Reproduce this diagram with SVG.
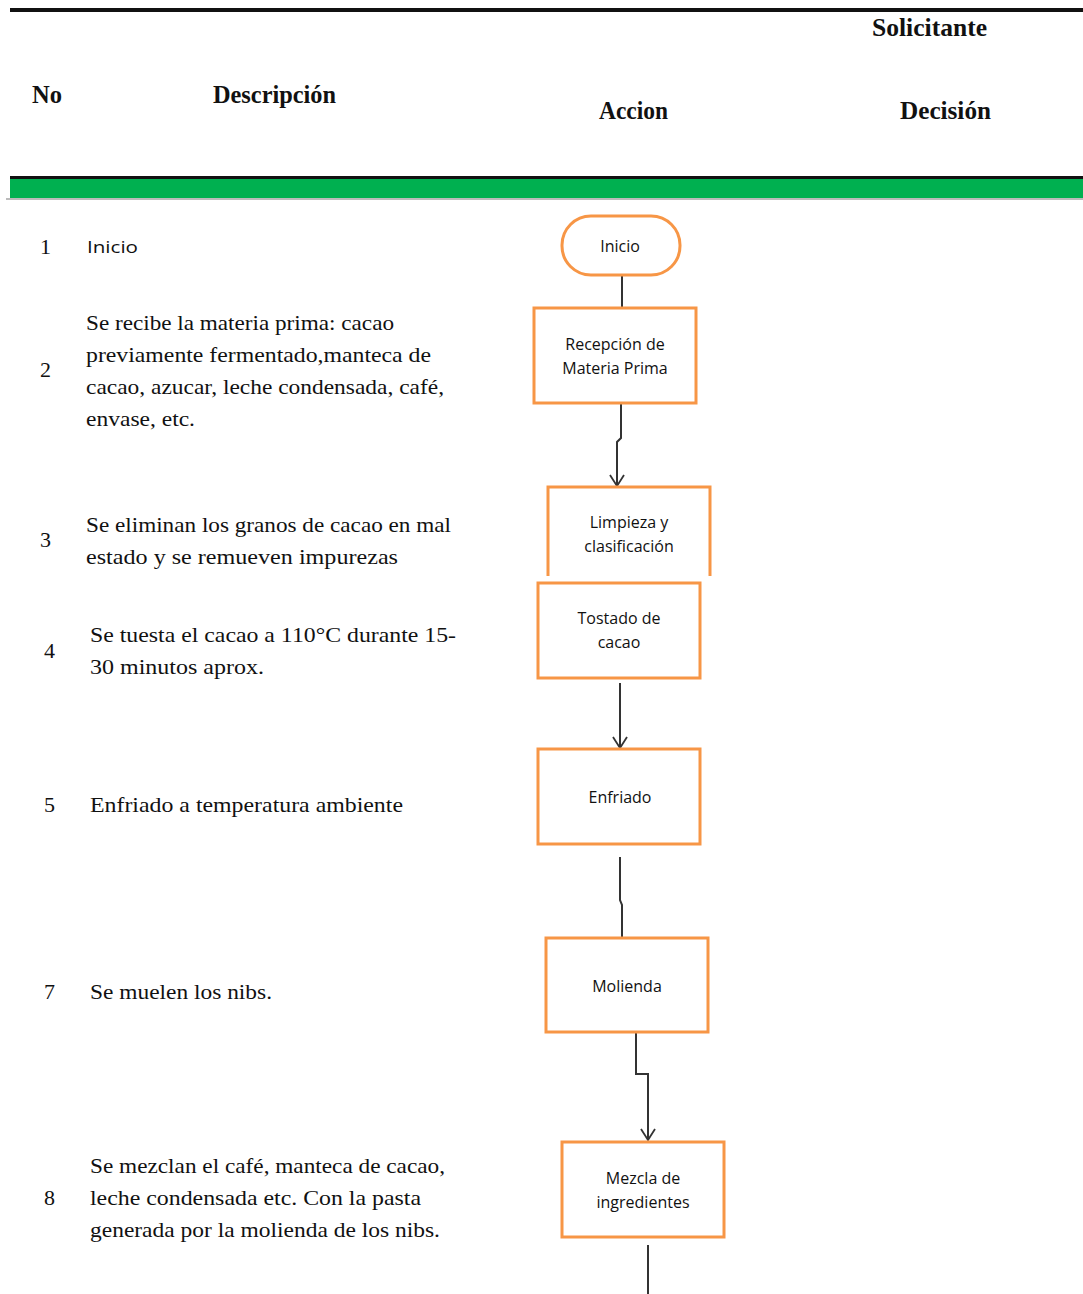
<svg xmlns="http://www.w3.org/2000/svg" width="1083" height="1294" viewBox="0 0 1083 1294">
<defs>
<style>
.h{font-family:"Liberation Serif","Times New Roman",serif;font-weight:bold;font-size:25px;fill:#111}
.d{font-family:"Liberation Serif","Times New Roman",serif;font-size:22px;fill:#111}
.n{font-family:"Liberation Serif","Times New Roman",serif;font-size:22px;fill:#111}
.s{font-family:"Open Sans","Noto Sans",sans-serif;font-size:16px;fill:#111}
.box{fill:#fff;stroke:#F79646;stroke-width:3}
.c{fill:none;stroke:#333;stroke-width:2}
</style>
<marker id="ah" viewBox="0 0 14 16" refX="13" refY="8" markerWidth="14" markerHeight="16" markerUnits="userSpaceOnUse" orient="auto">
<path d="M2 1 L13 8 L2 15" fill="none" stroke="#333" stroke-width="1.8"/>
</marker>
</defs>
<rect width="1083" height="1294" fill="#fff"/>
<g id="header">
<rect x="10" y="8" width="1073" height="4" fill="#111"/>
<rect x="10" y="176" width="1073" height="3" fill="#111"/>
<rect x="10" y="179" width="1073" height="19" fill="#00B050"/>
<rect x="6" y="198" width="1077" height="2" fill="#bbb"/>
<text class="h" x="32" y="103" textLength="30" lengthAdjust="spacingAndGlyphs">No</text>
<text class="h" x="213" y="103" textLength="123" lengthAdjust="spacingAndGlyphs">Descripción</text>
<text class="h" x="599" y="119" textLength="69" lengthAdjust="spacingAndGlyphs">Accion</text>
<text class="h" x="900" y="119" textLength="91" lengthAdjust="spacingAndGlyphs">Decisión</text>
<text class="h" x="872" y="36" textLength="115" lengthAdjust="spacingAndGlyphs">Solicitante</text>
</g>
<g id="rows">
<text class="n" x="40" y="254">1</text>
<text class="s" x="87" y="253" font-size="18" textLength="51" lengthAdjust="spacingAndGlyphs">Inicio</text>
<text class="n" x="40" y="377">2</text>
<text class="d" x="86" y="330" textLength="308" lengthAdjust="spacingAndGlyphs">Se recibe la materia prima: cacao</text>
<text class="d" x="86" y="362" textLength="345" lengthAdjust="spacingAndGlyphs">previamente fermentado,manteca de</text>
<text class="d" x="86" y="394" textLength="358" lengthAdjust="spacingAndGlyphs">cacao, azucar, leche condensada, café,</text>
<text class="d" x="86" y="426" textLength="109" lengthAdjust="spacingAndGlyphs">envase, etc.</text>
<text class="n" x="40" y="547">3</text>
<text class="d" x="86" y="532" textLength="365" lengthAdjust="spacingAndGlyphs">Se eliminan los granos de cacao en mal</text>
<text class="d" x="86" y="564" textLength="312" lengthAdjust="spacingAndGlyphs">estado y se remueven impurezas</text>
<text class="n" x="44" y="658">4</text>
<text class="d" x="90" y="642" textLength="366" lengthAdjust="spacingAndGlyphs">Se tuesta el cacao a 110°C durante 15-</text>
<text class="d" x="90" y="674" textLength="174" lengthAdjust="spacingAndGlyphs">30 minutos aprox.</text>
<text class="n" x="44" y="812">5</text>
<text class="d" x="90" y="812" textLength="313" lengthAdjust="spacingAndGlyphs">Enfriado a temperatura ambiente</text>
<text class="n" x="44" y="999">7</text>
<text class="d" x="90" y="999" textLength="182" lengthAdjust="spacingAndGlyphs">Se muelen los nibs.</text>
<text class="n" x="44" y="1205">8</text>
<text class="d" x="90" y="1173" textLength="355" lengthAdjust="spacingAndGlyphs">Se mezclan el café, manteca de cacao,</text>
<text class="d" x="90" y="1205" textLength="331" lengthAdjust="spacingAndGlyphs">leche condensada etc. Con la pasta</text>
<text class="d" x="90" y="1237" textLength="350" lengthAdjust="spacingAndGlyphs">generada por la molienda de los nibs.</text>
</g>
<g id="connectors">
<path class="c" d="M622 275 V308"/>
<path class="c" d="M621 403 V438 L617 442 V486" marker-end="url(#ah)"/>
<path class="c" d="M620 683 V748" marker-end="url(#ah)"/>
<path class="c" d="M620 857 V900 L622 905 V938"/>
<path class="c" d="M636 1032 V1074 H648 V1140" marker-end="url(#ah)"/>
<path class="c" d="M648 1245 V1294"/>
</g>
<g id="n-inicio">
<rect class="box" x="562" y="216" width="118" height="59" rx="29"/>
<text class="s" x="620" y="252" text-anchor="middle">Inicio</text>
</g>
<g id="n-recepcion">
<rect class="box" x="534" y="308" width="162" height="95"/>
<text class="s" x="615" y="350" text-anchor="middle">Recepción de</text>
<text class="s" x="615" y="374" text-anchor="middle">Materia Prima</text>
</g>
<g id="n-limpieza">
<path class="box" d="M548 576 V487 H710 V576"/>
<text class="s" x="629" y="528" text-anchor="middle">Limpieza y</text>
<text class="s" x="629" y="552" text-anchor="middle">clasificación</text>
</g>
<g id="n-tostado">
<rect class="box" x="538" y="583" width="162" height="95"/>
<text class="s" x="619" y="624" text-anchor="middle">Tostado de</text>
<text class="s" x="619" y="648" text-anchor="middle">cacao</text>
</g>
<g id="n-enfriado">
<rect class="box" x="538" y="749" width="162" height="95"/>
<text class="s" x="620" y="803" text-anchor="middle">Enfriado</text>
</g>
<g id="n-molienda">
<rect class="box" x="546" y="938" width="162" height="94"/>
<text class="s" x="627" y="992" text-anchor="middle">Molienda</text>
</g>
<g id="n-mezcla">
<rect class="box" x="562" y="1142" width="162" height="95"/>
<text class="s" x="643" y="1184" text-anchor="middle">Mezcla de</text>
<text class="s" x="643" y="1208" text-anchor="middle">ingredientes</text>
</g>
</svg>
